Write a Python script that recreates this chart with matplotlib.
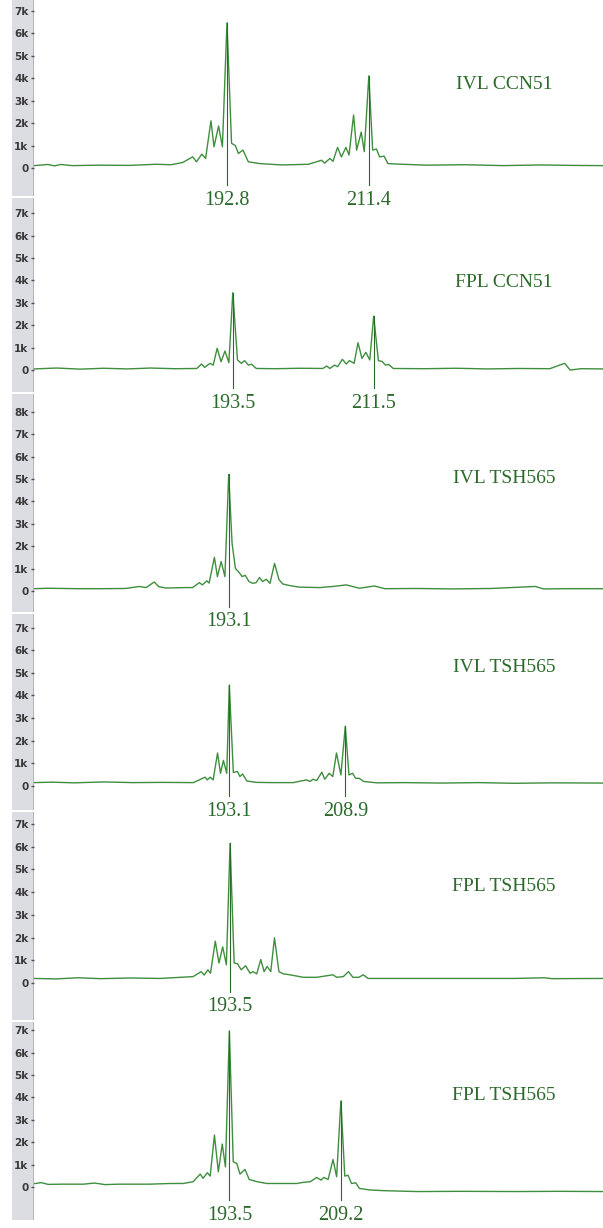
import matplotlib
matplotlib.use('Agg')
import matplotlib.pyplot as plt
from matplotlib.patches import Rectangle
import numpy as np

# fragment size (bp) and signal (RFU)
x1 = [167.5, 169.3, 170.2, 171.0, 172.5, 176.0, 180.0, 183.5, 185.5, 187.0, 188.3, 188.8, 189.5,
      190.0, 190.7, 191.1, 191.7, 192.2, 192.8, 193.4, 193.9, 194.3, 194.9, 195.6, 197.1, 200.0,
      203.5, 205.2, 205.6, 206.3, 206.7, 207.3, 207.8, 208.4, 208.8, 209.4, 209.8, 210.4, 210.8,
      211.4, 211.9, 212.4, 212.8, 213.4, 213.9, 215.0, 219.0, 224.0, 229.0, 234.0, 238.0, 242.1]
y1 = [110, 160, 100, 160, 110, 130, 120, 170, 150, 250, 500, 280, 620,
      430, 2100, 950, 1870, 950, 6460, 1100, 1000, 650, 800, 280, 200, 140,
      170, 350, 220, 430, 300, 920, 500, 920, 580, 2360, 800, 1600, 730,
      4100, 800, 850, 500, 530, 200, 180, 130, 150, 110, 140, 120, 110]

x2 = [168.1, 171.0, 174.0, 177.0, 180.0, 183.0, 186.0, 188.9, 189.5, 189.9, 190.6, 191.0, 191.5,
      192.0, 192.5, 193.0, 193.5, 194.1, 194.6, 195.0, 195.5, 195.9, 196.5, 199.0, 202.0, 205.0,
      205.5, 205.9, 206.5, 206.9, 207.5, 208.0, 208.4, 209.0, 209.5, 210.0, 210.5, 211.0, 211.5,
      212.1, 212.6, 213.0, 213.4, 214.0, 218.0, 222.0, 226.0, 230.0, 234.0, 235.9, 236.6, 238.0, 240.8]
y2 = [50, 90, 40, 80, 50, 90, 60, 70, 270, 120, 300, 220, 970,
      370, 850, 330, 3450, 450, 300, 420, 220, 260, 70, 60, 80, 70,
      180, 70, 220, 150, 480, 270, 420, 300, 1220, 520, 790, 450, 2410,
      420, 380, 220, 250, 70, 60, 80, 50, 70, 60, 300, 0, 60, 50]

x3 = [167.2, 169.0, 171.2, 173.0, 176.0, 179.4, 181.2, 182.1, 183.2, 183.8, 184.8, 187.4, 188.3,
      189.2, 189.6, 190.2, 190.5, 191.2, 191.6, 192.1, 192.6, 193.1, 193.55, 194.0, 194.4, 194.9,
      195.3, 195.8, 196.3, 196.75, 197.2, 197.6, 198.1, 198.6, 199.2, 199.8, 200.3, 201.2, 202.5,
      205.2, 207.0, 208.75, 210.5, 212.5, 213.9, 218.0, 223.0, 228.0, 233.9, 235.0, 238.0, 242.9]
y3 = [100, 120, 110, 100, 100, 110, 200, 150, 400, 190, 130, 150, 150,
      370, 270, 450, 350, 1500, 640, 1310, 640, 5200, 2130, 1000, 860, 640,
      700, 420, 340, 370, 600, 420, 520, 340, 1230, 500, 310, 240, 170,
      150, 200, 270, 120, 220, 100, 110, 90, 110, 200, 90, 100, 100]

x4 = [166.5, 169.0, 172.0, 176.0, 180.0, 184.0, 188.2, 189.8, 190.1, 190.5, 190.9, 191.5, 191.9,
      192.3, 192.75, 193.1, 193.65, 194.2, 194.55, 194.9, 195.5, 196.8, 199.0, 201.8, 203.6, 204.1,
      204.5, 205.0, 205.7, 206.1, 206.7, 207.2, 207.7, 208.3, 208.9, 209.4, 209.9, 210.3, 210.8,
      211.4, 213.2, 217.0, 222.0, 227.0, 232.0, 237.0, 244.0]
y4 = [150, 170, 140, 180, 150, 160, 150, 390, 270, 390, 270, 1460, 560,
      1130, 560, 4460, 600, 640, 420, 530, 220, 160, 150, 150, 270, 200,
      300, 240, 610, 300, 560, 420, 1460, 490, 2640, 490, 560, 340, 340,
      200, 140, 150, 130, 150, 120, 140, 130]

x5 = [167.0, 170.0, 173.0, 176.0, 180.0, 184.0, 188.5, 189.6, 190.0, 190.5, 190.85, 191.5, 192.0,
      192.5, 193.0, 193.5, 194.05, 194.5, 195.0, 195.6, 196.2, 196.6, 197.1, 197.65, 198.1, 198.5,
      199.0, 199.5, 200.1, 200.7, 201.6, 203.4, 205.2, 207.4, 207.9, 208.8, 209.5, 210.1, 210.9,
      211.5, 212.15, 218.0, 225.0, 232.0, 236.0, 237.0, 243.9]
y5 = [200, 180, 230, 190, 220, 200, 280, 500, 350, 580, 430, 1840, 880,
      1590, 800, 6150, 880, 850, 580, 760, 430, 500, 400, 1030, 500, 730,
      500, 1990, 500, 400, 360, 250, 250, 360, 250, 280, 500, 250, 250,
      360, 200, 200, 200, 200, 230, 190, 200]

x6 = [166.0, 167.0, 168.0, 170.0, 173.0, 174.5, 176.0, 178.0, 182.3, 185.15, 187.0, 188.4, 189.4,
      189.8, 190.4, 190.8, 191.4, 191.95, 192.5, 192.95, 193.5, 194.05, 194.55, 195.0, 195.7, 196.3,
      197.4, 198.8, 203.0, 203.9, 204.9, 205.8, 206.4, 206.8, 207.4, 208.1, 208.6, 209.2, 209.75,
      210.2, 210.7, 211.3, 211.8, 213.3, 215.2, 219.9, 226.0, 234.0, 240.0, 246.1]
y6 = [150, 200, 120, 130, 130, 180, 110, 130, 130, 160, 160, 240, 580,
      390, 640, 490, 2320, 680, 1920, 900, 6970, 1130, 1050, 580, 790, 340,
      240, 160, 160, 210, 240, 430, 310, 430, 340, 1230, 460, 3850, 490,
      530, 160, 190, -60, -130, -160, -200, -190, -200, -190, -200]

peaks = [[192.8, 211.4], [193.5, 211.5], [193.1], [193.1, 208.9], [193.5], [193.5, 209.2]]
names = ['IVL CCN51', 'FPL CCN51', 'IVL TSH565', 'IVL TSH565', 'FPL TSH565', 'FPL TSH565']
name_y = [3730, 3930, 5040, 5220, 4230, 4110]
max_tick = [7000, 7000, 8000, 7000, 7000, 7000]

traces = [(x1, y1), (x2, y2), (x3, y3), (x4, y4), (x5, y5), (x6, y6)]

# layout of each stitched screenshot (pixels on a 603x1228 canvas)
W, H = 603, 1228
panel_px = [(0, 196), (198, 392), (394, 612), (614, 810), (812, 1020), (1022, 1220)]
ylims = [(-1240, 7470), (-980, 7680), (-940, 8790), (-1060, 7600), (-1630, 7530), (-1470, 7370)]
label_drop = [32, 33, 31, 25, 24, 28]   # px from baseline to number centre
ax_left = 34

trace_col = '#3e8e3e'
mark_col = '#2a682a'
text_col = '#2b6a2b'

fig = plt.figure(figsize=(W / 100, H / 100), dpi=100)

for i, (xs, ys) in enumerate(traces):
    top, bot = panel_px[i]
    ax = fig.add_axes([ax_left / W, 1 - bot / H, (W - ax_left) / W, (bot - top) / H])
    ax.patch.set_visible(False)

    # grey axis strip on the left, as in the instrument software
    fig.patches.append(Rectangle((12 / W, 1 - bot / H), 22 / W, (bot - top) / H,
                                 transform=fig.transFigure, fc='#dcdce3', ec='none', zorder=-2))
    fig.patches.append(Rectangle((32.5 / W, 1 - bot / H), 1.8 / W, (bot - top) / H,
                                 transform=fig.transFigure, fc='#b4b4bc', ec='none', zorder=-1))

    ax.plot(xs, ys, color=trace_col, lw=1.0)
    ax.set_xlim(xs[0], xs[-1])
    ax.set_ylim(*ylims[i])

    ticks = list(range(0, max_tick[i] + 1, 1000))
    labels = ['0' if t == 0 else '%dk' % (t // 1000) for t in ticks]
    ax.set_yticks(ticks, labels=labels, fontsize=7.5, fontweight='bold', color='#3a3a3a')
    ax.set_xticks([])
    ax.tick_params(axis='y', length=2.5, width=1, color='#505050', pad=1.5)
    for s in ax.spines.values():
        s.set_visible(False)

    ppr = (bot - top) / (ylims[i][1] - ylims[i][0])   # pixels per RFU
    for p in peaks[i]:
        h = np.interp(p, xs, ys)
        ax.plot([p, p], [h, -(label_drop[i] - 15) / ppr], color=mark_col, lw=0.8, clip_on=False)
        ax.annotate('%.1f' % p, xy=(p, 0), xytext=(0, -label_drop[i] * 0.72),
                    textcoords='offset points', ha='center', va='center',
                    fontsize=14.5, family='Liberation Serif', color=text_col,
                    annotation_clip=False)

    ax.text(0.826, name_y[i], names[i], transform=ax.get_yaxis_transform(),
            ha='center', va='center', fontsize=14, family='Liberation Serif', color=text_col)

fig.savefig('out.png', dpi=100)
